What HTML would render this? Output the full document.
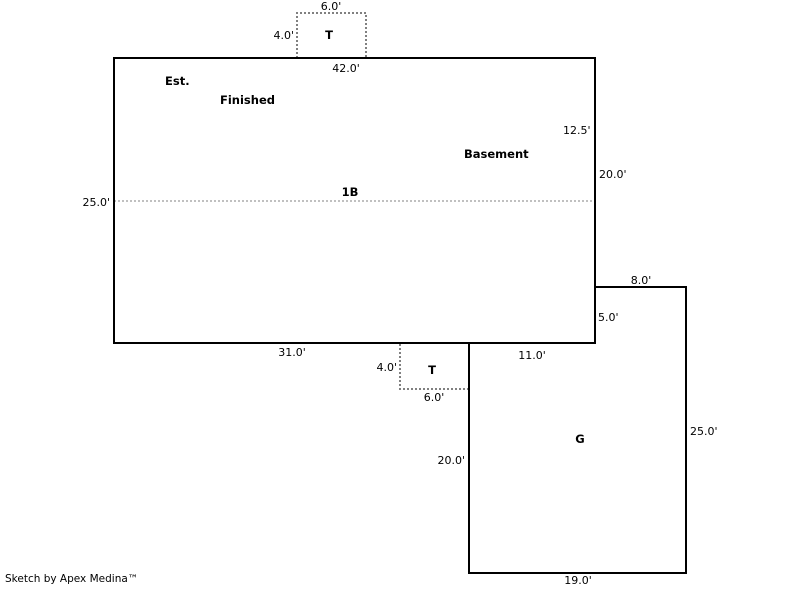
<!DOCTYPE html>
<html><head><style>
html,body{margin:0;padding:0;background:#fff;}
svg text{font-family:"DejaVu Sans",Verdana,sans-serif;font-size:11px;fill:#000;}
.b{font-weight:bold;font-size:11.5px;}
</style></head><body>
<svg width="800" height="587" viewBox="0 0 800 587" xmlns="http://www.w3.org/2000/svg">
<g fill="none" stroke="#808080" stroke-width="2" stroke-dasharray="2,2">
<polyline points="297,58 297,13 366,13 366,58"/>
<polyline points="400,344 400,389 469,389"/>
<line x1="114" y1="201" x2="595" y2="201" stroke-width="1"/>
</g>
<g fill="none" stroke="#000" stroke-width="2">
<rect x="114" y="58" width="481" height="285"/>
<polyline points="595,287 686,287 686,573 469,573 469,343"/>
</g>
<text x="331" y="10" text-anchor="middle">6.0'</text>
<text x="294" y="39" text-anchor="end">4.0'</text>
<text class="b" x="329" y="39" text-anchor="middle">T</text>
<text x="346" y="72" text-anchor="middle">42.0'</text>
<text class="b" x="165" y="85">Est.</text>
<text class="b" x="220" y="104">Finished</text>
<text x="563" y="134">12.5'</text>
<text class="b" x="464" y="158">Basement</text>
<text x="599" y="178">20.0'</text>
<text class="b" x="350" y="196" text-anchor="middle">1B</text>
<text x="110" y="206" text-anchor="end">25.0'</text>
<text x="641" y="284" text-anchor="middle">8.0'</text>
<text x="598" y="321">5.0'</text>
<text x="292" y="356" text-anchor="middle">31.0'</text>
<text x="532" y="359" text-anchor="middle">11.0'</text>
<text x="397" y="371" text-anchor="end">4.0'</text>
<text class="b" x="432" y="374" text-anchor="middle">T</text>
<text x="434" y="401" text-anchor="middle">6.0'</text>
<text x="690" y="435">25.0'</text>
<text class="b" x="580" y="443" text-anchor="middle">G</text>
<text x="465" y="464" text-anchor="end">20.0'</text>
<text x="578" y="584" text-anchor="middle">19.0'</text>
<text x="5" y="582" style="font-size:10.5px">Sketch by Apex Medina™</text>
</svg>
</body></html>
